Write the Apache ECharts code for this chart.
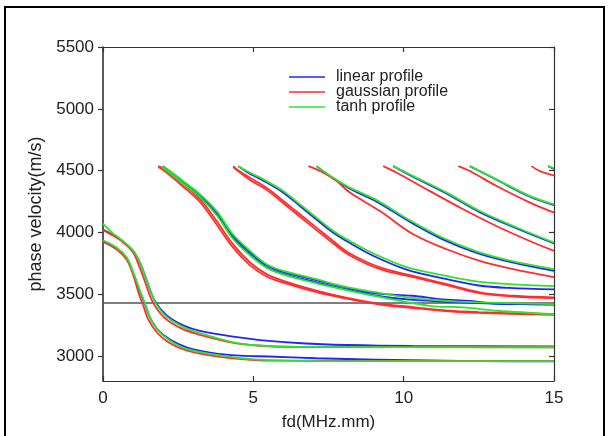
<!DOCTYPE html>
<html>
<head>
<meta charset="utf-8">
<script src="https://cdn.jsdelivr.net/npm/echarts@6/dist/echarts.min.js"></script>
<style>
html,body{margin:0;padding:0;background:#fff;}
#chart{width:611px;height:436px;}
</style>
</head>
<body>
<div id="chart"></div>
<script>
// ---------- data (fd in MHz.mm, phase velocity in m/s) ----------
const xTicks = [0, 5, 10, 15];
const yTicks = [3000, 3500, 4000, 4500, 5000, 5500];
const refVelocity = 3430;
const profileNames = ['linear profile', 'gaussian profile', 'tanh profile'];

// linear profile (blue)
const lin_L1 = [[0,4025],[0.3,3985],[0.57,3946],[1.0,3852],[1.25,3745],[1.45,3615],[1.73,3445],[2.12,3330],[2.67,3250],[3.23,3205],[4.33,3158],[5.22,3131],[6.6,3105],[8.1,3091],[10.3,3083],[15,3080]];
const lin_L2 = [[0,3927],[0.45,3870],[0.79,3790],[1.01,3670],[1.23,3520],[1.4,3418],[1.56,3315],[1.84,3210],[2.23,3135],[2.78,3072],[3.56,3030],[4.56,3005],[5.5,2998],[7.1,2984],[9.1,2973],[12.5,2960],[15,2958]];
const lin_A1 = [[2.0,4537],[2.23,4490],[2.67,4410],[3.23,4300],[3.78,4165],[4.32,3975],[4.89,3840],[5.44,3735],[6.0,3680],[7.1,3615],[8.0,3560],[9.0,3510],[10.3,3489],[11.2,3462],[12.2,3448],[13.3,3422],[15,3420]];
const lin_A2 = [[1.95,4530],[2.23,4480],[2.67,4398],[3.23,4288],[3.78,4148],[4.32,3958],[4.89,3822],[5.44,3720],[6.0,3665],[7.1,3598],[8.1,3540],[9.2,3485],[10.3,3455],[12.5,3430],[15,3418]];
const lin_B = [[4.5,4537],[4.78,4490],[5.44,4405],[6.0,4322],[6.55,4215],[7.1,4105],[7.66,3998],[8.21,3915],[9.0,3810],[10.1,3700],[11.4,3625],[12.5,3572],[13.5,3552],[15,3540]];
const lin_C = [[7.1,4537],[7.66,4438],[8.21,4355],[9.1,4250],[10.2,4088],[11.3,3945],[12.4,3838],[13.5,3765],[15,3690]];
const lin_D = [[9.65,4537],[10.32,4450],[11.43,4315],[12.53,4165],[13.64,4045],[15,3912]];
const lin_E = [[12.2,4537],[13.1,4425],[14.2,4290],[15,4222]];
const lin_F = [[14.8,4537],[15,4515]];

// gaussian profile (red)
const gau_L1 = [[0,4020],[0.57,3940],[1.0,3840],[1.2,3730],[1.4,3600],[1.65,3440],[2.05,3310],[2.6,3225],[3.2,3175],[4.3,3110],[5.2,3085],[6.5,3075],[15,3073]];
const gau_L2 = [[0,3927],[0.45,3865],[0.79,3780],[1.0,3660],[1.2,3500],[1.35,3400],[1.5,3300],[1.8,3190],[2.2,3110],[2.75,3050],[3.5,3010],[4.5,2980],[5.5,2965],[15,2962]];
const gau_A1 = [[1.84,4537],[2.06,4510],[2.67,4390],[3.23,4269],[3.78,4094],[4.32,3906],[4.89,3758],[5.44,3664],[6.0,3610],[7.1,3530],[8.0,3478],[9.2,3425],[10.3,3398],[11.4,3370],[12.5,3356],[15,3340]];
const gau_A2 = [[1.84,4530],[2.06,4495],[2.67,4370],[3.23,4245],[3.78,4065],[4.32,3880],[4.89,3735],[5.44,3645],[6.0,3595],[7.1,3518],[8.0,3470],[9.2,3418],[10.3,3390],[11.4,3365],[12.5,3350],[15,3335]];
const gau_B1 = [[4.33,4537],[4.45,4510],[4.89,4443],[5.44,4363],[6.0,4255],[6.55,4148],[7.1,4040],[7.66,3930],[8.21,3830],[9.21,3718],[10.32,3650],[11.43,3583],[12.53,3516],[13.64,3489],[15,3476]];
const gau_B2 = [[4.33,4530],[4.89,4425],[5.44,4345],[6.0,4237],[6.55,4128],[7.1,4020],[7.66,3912],[8.21,3815],[9.21,3705],[10.32,3640],[11.43,3575],[12.53,3510],[13.64,3483],[15,3470]];
const gau_C = [[6.83,4537],[7.33,4484],[7.77,4416],[8.21,4323],[9.21,4174],[10.32,3986],[11.43,3865],[12.53,3771],[13.64,3704],[15,3640]];
const gau_D = [[9.32,4537],[9.77,4484],[10.87,4335],[11.98,4188],[13.08,4053],[14.19,3932],[15,3852]];
const gau_E = [[11.82,4537],[12.2,4497],[13.09,4376],[14.2,4242],[15,4161]];
const gau_F = [[14.25,4537],[14.53,4497],[15,4462]];

// tanh profile (green)
const tanh_L1 = [[0,4073],[0.3,4000],[0.57,3950],[1.0,3855],[1.25,3745],[1.45,3612],[1.73,3440],[2.12,3318],[2.67,3236],[3.23,3188],[4.3,3115],[5.2,3087],[6.5,3076],[15,3073]];
const tanh_L2 = [[0,3938],[0.45,3879],[0.79,3798],[1.01,3677],[1.23,3529],[1.4,3422],[1.56,3315],[1.84,3206],[2.23,3126],[2.78,3059],[3.56,3019],[4.56,2985],[5.5,2968],[7,2962],[15,2960]];
const tanh_A1 = [[2.0,4537],[2.23,4497],[2.67,4416],[3.23,4309],[3.78,4174],[4.32,3986],[4.89,3852],[5.44,3744],[6.0,3690],[7.1,3623],[8.0,3565],[9.0,3520],[10.1,3476],[11.4,3448],[12.5,3435],[15,3422]];
const tanh_A2 = [[1.95,4530],[2.23,4480],[2.67,4395],[3.23,4285],[3.78,4140],[4.32,3950],[4.89,3815],[5.44,3715],[6.0,3660],[7.1,3590],[8.1,3535],[9.2,3480],[10.87,3408],[12,3395],[13.1,3368],[15,3341]];
const tanh_B = [[4.5,4537],[4.78,4497],[5.44,4416],[6.0,4335],[6.55,4228],[7.1,4121],[7.66,4013],[8.21,3932],[9.0,3830],[10.1,3720],[11.2,3660],[12.3,3610],[13.5,3583],[15,3567]];
const tanh_C = [[7.1,4537],[7.66,4443],[8.21,4363],[9.1,4262],[10.2,4100],[11.3,3958],[12.4,3850],[13.5,3775],[15,3704]];
const tanh_D = [[9.65,4537],[10.32,4456],[11.43,4323],[12.53,4174],[13.64,4053],[15,3919]];
const tanh_E = [[12.2,4537],[13.09,4430],[14.2,4295],[15,4228]];
const tanh_F = [[14.8,4537],[15,4520]];

// ---------- chart ----------
const colors = ['#2323ff', '#ff2d2d', '#2be52b'];
const curveSets = [
  [lin_L1, lin_L2, lin_A1, lin_A2, lin_B, lin_C, lin_D, lin_E, lin_F],
  [gau_L1, gau_L2, gau_A1, gau_A2, gau_B1, gau_B2, gau_C, gau_D, gau_E, gau_F],
  [tanh_L1, tanh_L2, tanh_A1, tanh_A2, tanh_B, tanh_C, tanh_D, tanh_E, tanh_F]
];

const FONT = 'Liberation Sans, Arial, sans-serif';
const series = [];
curveSets.forEach((set, i) => {
  set.forEach(d => {
    series.push({
      type: 'line', name: profileNames[i], data: d,
      xAxisIndex: 0, yAxisIndex: 0,
      symbol: 'none', showSymbol: false,
      smooth: 0.35,
      color: colors[i],
      lineStyle: {width: 1.8, color: colors[i]},
      silent: true, z: 2 + i
    });
  });
});
series.push({
  type: 'line', name: 'ref', data: [[xTicks[0], refVelocity], [xTicks[xTicks.length - 1], refVelocity]],
  symbol: 'none', color: '#555', lineStyle: {width: 1.6, color: '#555'}, silent: true, z: 1
});

const plain = v => String(v);
const chart = echarts.init(document.getElementById('chart'), null, {renderer: 'canvas'});
chart.setOption({
  animation: false,
  backgroundColor: '#fff',
  textStyle: {fontFamily: FONT},
  grid: {left: 103, right: 57, top: 47, bottom: 55, containLabel: false},
  legend: {
    data: profileNames, orient: 'vertical', left: 284, top: 64,
    icon: 'rect', itemWidth: 36, itemHeight: 1.5, itemGap: -1,
    textStyle: {fontFamily: FONT, fontSize: 16, color: '#222', padding: [0, 0, 0, 6]},
    selectedMode: false
  },
  xAxis: [
    {type: 'value', position: 'bottom', min: 0, max: 15, interval: 5,
     name: 'fd(MHz.mm)', nameLocation: 'middle', nameGap: 33,
     nameTextStyle: {fontFamily: FONT, fontSize: 17, color: '#222'},
     axisLine: {show: true, onZero: false, lineStyle: {color: '#333', width: 1.2}},
     axisTick: {show: true, inside: true, length: 5, lineStyle: {color: '#333', width: 1.2}},
     axisLabel: {fontFamily: FONT, fontSize: 17, color: '#222', margin: 9, formatter: plain},
     splitLine: {show: false}},
    {type: 'value', position: 'top', min: 0, max: 15, interval: 5,
     axisLine: {show: true, onZero: false, lineStyle: {color: '#333', width: 1.2}},
     axisTick: {show: true, inside: true, length: 5, lineStyle: {color: '#333', width: 1.2}},
     axisLabel: {show: false}, splitLine: {show: false}}
  ],
  yAxis: [
    {type: 'value', position: 'left', min: 2800, max: 5500,
     name: 'phase velocity(m/s)', nameLocation: 'middle', nameGap: 58,
     nameTextStyle: {fontFamily: FONT, fontSize: 18, color: '#222'},
     axisLine: {show: true, onZero: false, lineStyle: {color: '#222', width: 1.5}},
     axisTick: {show: true, inside: false, length: 5, customValues: yTicks, lineStyle: {color: '#333', width: 1.2}},
     axisLabel: {fontFamily: FONT, fontSize: 17, color: '#222', margin: 9, customValues: yTicks, formatter: plain},
     splitLine: {show: false}},
    {type: 'value', position: 'right', min: 2800, max: 5500,
     axisLine: {show: true, onZero: false, lineStyle: {color: '#333', width: 1.2}},
     axisTick: {show: true, inside: true, length: 5, customValues: yTicks, lineStyle: {color: '#333', width: 1.2}},
     axisLabel: {show: false, customValues: yTicks}, splitLine: {show: false}}
  ],
  graphic: [
    {type: 'rect', shape: {x: 5, y: 7, width: 599, height: 440}, style: {fill: 'none', stroke: '#000', lineWidth: 2}, silent: true}
  ],
  series: series
});
</script>
</body>
</html>
